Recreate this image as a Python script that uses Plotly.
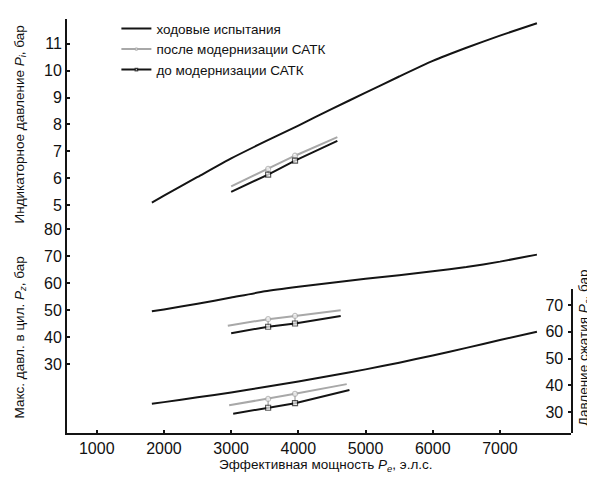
import plotly.graph_objects as go

# ---- data ----
x_run = [1820, 2000, 2500, 3000, 3500, 4000, 4500, 5000, 5500, 6000, 6500, 7000, 7550]
pi_run = [5.10, 5.36, 6.05, 6.74, 7.36, 7.96, 8.58, 9.18, 9.78, 10.36, 10.85, 11.30, 11.76]
pz_run = [49.5, 50.2, 52.3, 54.6, 56.9, 58.6, 60.1, 61.6, 62.9, 64.3, 65.9, 67.9, 70.5]
pc_run = [33.2, 33.8, 35.6, 37.4, 39.4, 41.5, 43.7, 46.0, 48.5, 51.2, 54.0, 56.9, 60.0]

x_pi_after = [3000, 3550, 3950, 4580]
pi_after = [5.70, 6.35, 6.84, 7.53]
x_pi_before = [3000, 3550, 3950, 4580]
pi_before = [5.50, 6.14, 6.66, 7.39]

x_pz_after = [2950, 3550, 3950, 4630]
pz_after = [44.2, 46.6, 47.8, 49.9]
x_pz_before = [3000, 3550, 3950, 4630]
pz_before = [41.4, 43.8, 45.0, 47.8]

x_pc_after = [2970, 3550, 3950, 4720]
pc_after = [32.6, 35.0, 36.9, 40.5]
x_pc_before = [3030, 3550, 3950, 4760]
pc_before = [29.5, 31.7, 33.4, 38.3]

x_ticks = [1000, 2000, 3000, 4000, 5000, 6000, 7000]
pi_ticks = [5, 6, 7, 8, 9, 10, 11]
pz_ticks = [30, 40, 50, 60, 70, 80]
pc_ticks = [30, 40, 50, 60, 70]

names = ["ходовые испытания", "после модернизации САТК", "до модернизации САТК"]

BLACK = "#141414"
GRAY = "#a8a8a8"
FONT = "Liberation Sans, Arial, sans-serif"

fig = go.Figure()

def add_set(xr, yr, xa, ya, xb, yb, axis, show):
    fig.add_trace(go.Scatter(x=xr, y=yr, mode="lines", name=names[0], yaxis=axis,
                             line=dict(color=BLACK, width=2, shape="spline", smoothing=0.5),
                             showlegend=show, legendrank=1))
    cx, cy = [], []
    for i in (1, 2):
        cx += [xa[i], xb[i], None]
        cy += [ya[i], yb[i], None]
    fig.add_trace(go.Scatter(x=cx, y=cy, mode="lines", yaxis=axis, showlegend=False,
                             line=dict(color=GRAY, width=1.3), hoverinfo="skip"))
    msz = [0, 5, 5, 0]
    fig.add_trace(go.Scatter(x=xa, y=ya, mode="lines+markers", name=names[1], yaxis=axis,
                             line=dict(color=GRAY, width=2),
                             marker=dict(symbol="circle", size=msz, color="white",
                                         line=dict(color=GRAY, width=1.2)),
                             showlegend=show, legendrank=2))
    fig.add_trace(go.Scatter(x=xb, y=yb, mode="lines+markers", name=names[2], yaxis=axis,
                             line=dict(color=BLACK, width=2),
                             marker=dict(symbol="square", size=msz, color="white",
                                         line=dict(color=BLACK, width=1.2)),
                             showlegend=show, legendrank=3))

add_set(x_run, pi_run, x_pi_after, pi_after, x_pi_before, pi_before, "y", True)
add_set(x_run, pz_run, x_pz_after, pz_after, x_pz_before, pz_before, "y2", False)
add_set(x_run, pc_run, x_pc_after, pc_after, x_pc_before, pc_before, "y3", False)

tickfont = dict(family=FONT, size=16, color="#111")
axis_common = dict(showline=True, linecolor=BLACK, linewidth=2, showgrid=False,
                   zeroline=False, ticks="inside", ticklen=3, tickcolor=BLACK,
                   tickwidth=1.5, tickfont=tickfont, automargin=False)

split = (433 - 214) / 420
fig.update_layout(
    width=587, height=469,
    margin=dict(l=59, r=24, t=5, b=44),
    paper_bgcolor="white", plot_bgcolor="rgba(0,0,0,0)",
    font=dict(family=FONT, size=14, color="#111"),
    xaxis=dict(domain=[0, 1], range=[557, 8057], anchor="y2", tickvals=x_ticks,
               **axis_common),
    yaxis=dict(domain=[split, 1], range=[4.56, 11.915], anchor="x", tickvals=pi_ticks,
               **axis_common),
    yaxis2=dict(domain=[0, split], range=[4.45, 84.38], anchor="x", tickvals=pz_ticks,
                **axis_common),
    yaxis3=dict(domain=[0, 146 / 420], range=[22.3, 75.9], anchor="x", side="right",
                ticklabelposition="inside", ticklabelstandoff=5, tickvals=pc_ticks,
                **axis_common),
    legend=dict(x=0.098, y=1.014, xanchor="left", yanchor="top",
                bgcolor="rgba(0,0,0,0)", font=dict(family=FONT, size=13.5, color="#111"),
                tracegroupgap=0),
    showlegend=True,
)

tfont = dict(family=FONT, size=13.5, color="#111")
fig.add_annotation(text="Эффективная мощность <i>P</i><sub><i>e</i></sub>, э.л.с.",
                   xref="paper", yref="paper", x=(326 - 67) / 504, y=-33 / 420,
                   xanchor="center", yanchor="middle", showarrow=False, font=tfont)
fig.add_annotation(text="Индикаторное давление <i>P</i><sub><i>i</i></sub>, бар",
                   xref="paper", yref="paper", x=(20 - 67) / 504, y=(433 - 120) / 420,
                   xanchor="center", yanchor="middle", textangle=-90, showarrow=False,
                   font=tfont)
fig.add_annotation(text="Макс. давл. в цил. <i>P</i><sub><i>z</i></sub>, бар",
                   xref="paper", yref="paper", x=(20 - 67) / 504, y=(433 - 336) / 420,
                   xanchor="center", yanchor="middle", textangle=-90, showarrow=False,
                   font=tfont)
fig.add_annotation(text="Давление сжатия <i>P</i><sub><i>c</i></sub>, бар",
                   xref="paper", yref="paper", x=(584 - 67) / 504, y=(433 - 347) / 420,
                   xanchor="center", yanchor="middle", textangle=-90, showarrow=False,
                   font=tfont)

fig.write_html("out.html")
